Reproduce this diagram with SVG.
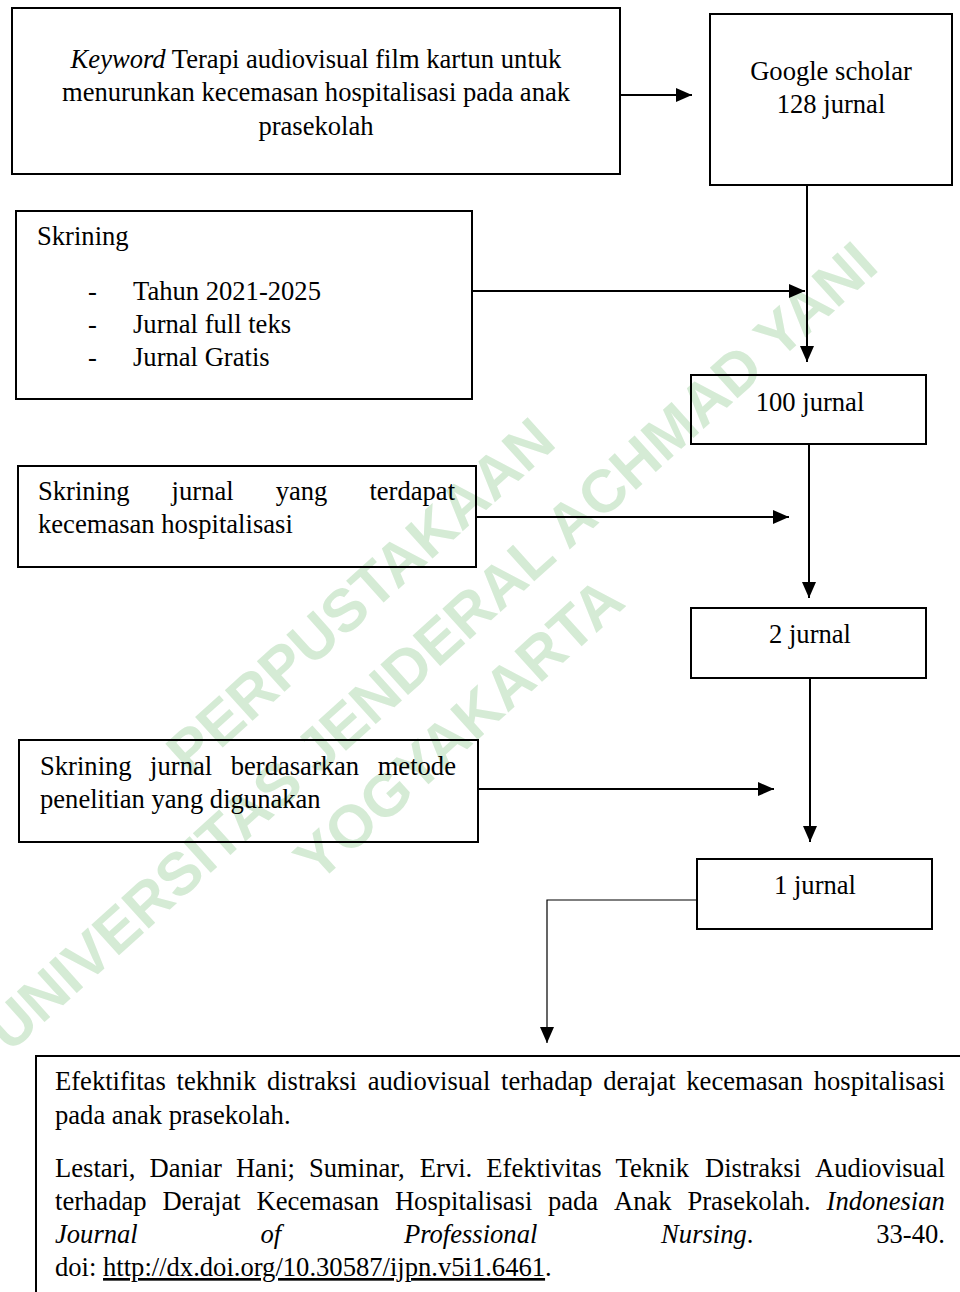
<svg xmlns="http://www.w3.org/2000/svg" width="960" height="1292" viewBox="0 0 960 1292">
<defs>
<style>
.box{fill:none;stroke:#000;stroke-width:2}
.t{font-family:"Liberation Serif","Times New Roman",serif;font-size:26.6px;fill:#000}
.c{text-anchor:middle}
.i{font-style:italic}
.wm{font-family:"Liberation Sans",Arial,sans-serif;font-weight:bold;font-size:60px;fill:#d5ebd5;text-anchor:middle}
.conn{stroke:#000;stroke-width:2;fill:none}
.thin{stroke:#000;stroke-width:1.2;fill:none}
</style>
<marker id="arr" viewBox="0 0 16 14" refX="16" refY="7" markerWidth="16" markerHeight="14" markerUnits="userSpaceOnUse" orient="auto">
<path d="M0,0 L16,7 L0,14 z" fill="#000"/>
</marker>
</defs>
<rect x="0" y="0" width="960" height="1292" fill="#fff"/>

<g id="watermark" transform="translate(431,646) rotate(-42)">
<text class="wm" x="-19" y="-64">PERPUSTAKAAN</text>
<text class="wm" x="0" y="21">UNIVERSITAS JENDERAL ACHMAD YANI</text>
<text class="wm" x="-35" y="101">YOGYAKARTA</text>
</g>

<g id="connectors">
<line class="conn" x1="620" y1="95" x2="692" y2="95" marker-end="url(#arr)"/>
<line class="conn" x1="807" y1="185" x2="807" y2="362" marker-end="url(#arr)"/>
<line class="conn" x1="472" y1="291" x2="805" y2="291" marker-end="url(#arr)"/>
<line class="conn" x1="809" y1="444" x2="809" y2="598" marker-end="url(#arr)"/>
<line class="conn" x1="476" y1="517" x2="789" y2="517" marker-end="url(#arr)"/>
<line class="conn" x1="810" y1="678" x2="810" y2="842" marker-end="url(#arr)"/>
<line class="conn" x1="478" y1="789" x2="774" y2="789" marker-end="url(#arr)"/>
<polyline class="thin" points="697,900 547,900 547,1043" marker-end="url(#arr)"/>
</g>

<g id="node-keyword">
<rect class="box" x="12" y="8" width="608" height="166"/>
<text class="t c" x="316" y="68"><tspan class="i">Keyword</tspan> Terapi audiovisual film kartun untuk</text>
<text class="t c" x="316" y="101">menurunkan kecemasan hospitalisasi pada anak</text>
<text class="t c" x="316" y="135">prasekolah</text>
</g>

<g id="node-google">
<rect class="box" x="710" y="14" width="242" height="171"/>
<text class="t c" x="831" y="80">Google scholar</text>
<text class="t c" x="831" y="113">128 jurnal</text>
</g>

<g id="node-skrining">
<rect class="box" x="16" y="211" width="456" height="188"/>
<text class="t" x="37" y="245">Skrining</text>
<text class="t" x="88" y="300">-</text>
<text class="t" x="133" y="300">Tahun 2021-2025</text>
<text class="t" x="88" y="333">-</text>
<text class="t" x="133" y="333">Jurnal full teks</text>
<text class="t" x="88" y="366">-</text>
<text class="t" x="133" y="366">Jurnal Gratis</text>
</g>

<g id="node-100">
<rect class="box" x="691" y="375" width="235" height="69"/>
<text class="t c" x="810" y="411">100 jurnal</text>
</g>

<g id="node-skrining-kecemasan">
<rect class="box" x="18" y="466" width="458" height="101"/>
<text class="t" y="500"><tspan x="38">Skrining</tspan><tspan x="171.6">jurnal</tspan><tspan x="275.7">yang</tspan><tspan x="369.4">terdapat</tspan></text>
<text class="t" x="38" y="533">kecemasan hospitalisasi</text>
</g>

<g id="node-2">
<rect class="box" x="691" y="608" width="235" height="70"/>
<text class="t c" x="810" y="643">2 jurnal</text>
</g>

<g id="node-skrining-metode">
<rect class="box" x="19" y="740" width="459" height="102"/>
<text class="t" y="775"><tspan x="40">Skrining</tspan><tspan x="150.1">jurnal</tspan><tspan x="230.7">berdasarkan</tspan><tspan x="377.7">metode</tspan></text>
<text class="t" x="40" y="808">penelitian yang digunakan</text>
</g>

<g id="node-1">
<rect class="box" x="697" y="859" width="235" height="70"/>
<text class="t c" x="815" y="894">1 jurnal</text>
</g>

<g id="node-result">
<rect class="box" x="36" y="1056" width="940" height="260"/>
<text class="t" y="1090"><tspan x="55">Efektifitas</tspan><tspan x="176.5">tekhnik</tspan><tspan x="266.9">distraksi</tspan><tspan x="367.7">audiovisual</tspan><tspan x="501">terhadap</tspan><tspan x="603.3">derajat</tspan><tspan x="686.3">kecemasan</tspan><tspan x="813.7">hospitalisasi</tspan></text>
<text class="t" x="55" y="1124">pada anak prasekolah.</text>
<text class="t" y="1177"><tspan x="55">Lestari,</tspan><tspan x="149.5">Daniar</tspan><tspan x="235.9">Hani;</tspan><tspan x="309">Suminar,</tspan><tspan x="419.8">Ervi.</tspan><tspan x="486.3">Efektivitas</tspan><tspan x="615.6">Teknik</tspan><tspan x="705">Distraksi</tspan><tspan x="815.1">Audiovisual</tspan></text>
<text class="t" y="1210"><tspan x="55">terhadap</tspan><tspan x="162.4">Derajat</tspan><tspan x="256.5">Kecemasan</tspan><tspan x="394.9">Hospitalisasi</tspan><tspan x="547.9">pada</tspan><tspan x="614">Anak</tspan><tspan x="687.4">Prasekolah.</tspan><tspan x="826.6" class="i">Indonesian</tspan></text>
<text class="t" y="1243"><tspan x="55" class="i">Journal</tspan><tspan x="260.5" class="i">of</tspan><tspan x="403.9" class="i">Professional</tspan><tspan x="661.1" class="i">Nursing</tspan><tspan>.</tspan><tspan x="876.2">33-40.</tspan></text>
<text class="t" x="55" y="1276">doi: <tspan style="text-decoration:underline">http://dx.doi.org/10.30587/ijpn.v5i1.6461</tspan>.</text>
</g>
</svg>
